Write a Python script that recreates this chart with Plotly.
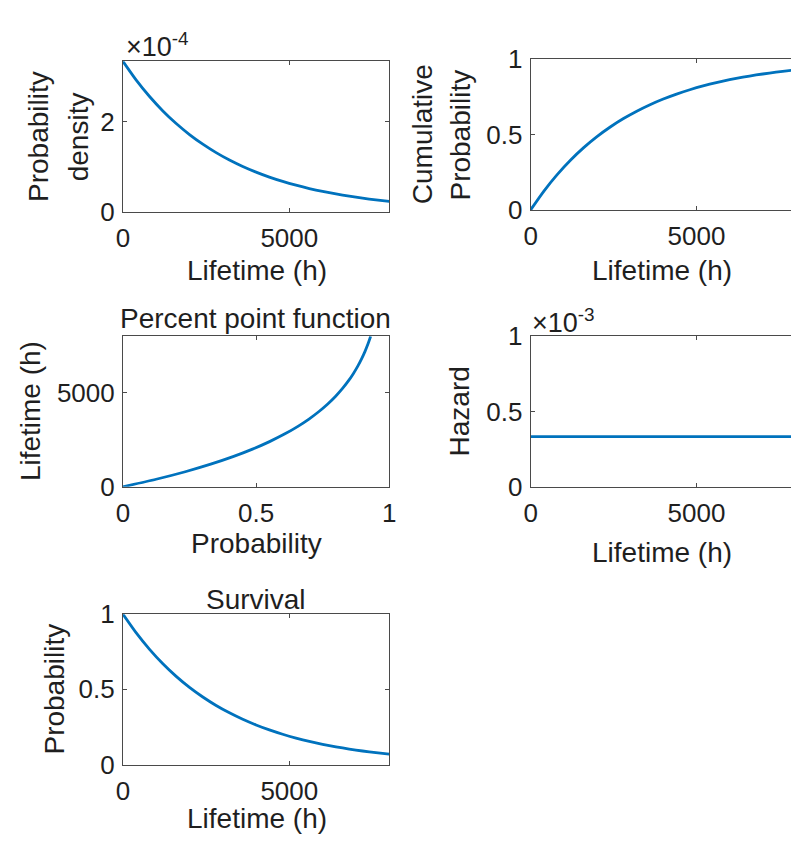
import plotly.graph_objects as go

# ---------------- data ----------------
lifetime_h = [0, 400, 800, 1200, 1600, 2000, 2400, 2800, 3200, 3600, 4000,
              4400, 4800, 5200, 5600, 6000, 6400, 6800, 7200, 7600, 8000]
# probability density, in units of 1e-4
pdf_e4 = [3.333, 2.917, 2.553, 2.234, 1.955, 1.711, 1.498, 1.311, 1.147, 1.004, 0.879,
          0.769, 0.673, 0.589, 0.515, 0.451, 0.395, 0.346, 0.302, 0.265, 0.232]
cdf = [0.0000, 0.1248, 0.2341, 0.3297, 0.4134, 0.4866, 0.5507, 0.6068, 0.6558, 0.6988, 0.7364,
       0.7693, 0.7981, 0.8233, 0.8454, 0.8647, 0.8816, 0.8963, 0.9093, 0.9206, 0.9305]
survival = [1.0000, 0.8752, 0.7659, 0.6703, 0.5866, 0.5134, 0.4493, 0.3932, 0.3442, 0.3012, 0.2636,
            0.2307, 0.2019, 0.1767, 0.1546, 0.1353, 0.1184, 0.1037, 0.0907, 0.0794, 0.0695]
# percent point function: probability -> lifetime
ppf_prob = cdf
ppf_life = lifetime_h
# hazard, in units of 1e-3
hazard_e3 = [0.333] * len(lifetime_h)

x_ticks = [0, 5000, 10000]
x_ticktext = ["0", "5000", "10000"]
prob_ticks = [0, 0.5, 1]
prob_ticktext = ["0", "0.5", "1"]
pdf_ticks = [0, 2]
pdf_ticktext = ["0", "2"]
life_ticks = [0, 5000]
life_ticktext = ["0", "5000"]

# ---------------- layout helpers ----------------
W, H = 798, 852
BLUE = "#0072BD"
AX = "#4a4a4a"
TXT = "#1f1f1f"
FONT = "Arial, Liberation Sans, Helvetica, sans-serif"
TICK_SIZE = 26
LABEL_SIZE = 28


def xdom(a, b):
    return [a / W, min(b / W, 1.0)]


def ydom(top, bottom):
    return [1 - bottom / H, 1 - top / H]


fig = go.Figure()

panels = [
    dict(x=lifetime_h, y=pdf_e4, xd=(118, 389), yd=(48, 204), xr=[0, 8000], yr=[0, 3.333],
         xt=(x_ticks, x_ticktext), yt=(pdf_ticks, pdf_ticktext), my=True),
    dict(x=lifetime_h, y=cdf, xd=(533, 798), yd=(46, 202), xr=[0, 8000 * 265 / 270], yr=[0, 1],
         xt=(x_ticks, x_ticktext), yt=(prob_ticks, prob_ticktext), my=False),
    dict(x=ppf_prob, y=ppf_life, xd=(118, 389), yd=(333, 489), xr=[0, 1], yr=[0, 8000],
         xt=(prob_ticks, prob_ticktext), yt=(life_ticks, life_ticktext), my=True),
    dict(x=lifetime_h, y=hazard_e3, xd=(533, 798), yd=(333, 489), xr=[0, 8000 * 265 / 270], yr=[0, 1],
         xt=(x_ticks, x_ticktext), yt=(prob_ticks, prob_ticktext), my=False),
    dict(x=lifetime_h, y=survival, xd=(118, 389), yd=(621, 777), xr=[0, 8000], yr=[0, 1],
         xt=(x_ticks, x_ticktext), yt=(prob_ticks, prob_ticktext), my=True),
]

for i, p in enumerate(panels, start=1):
    xa = "x" if i == 1 else f"x{i}"
    ya = "y" if i == 1 else f"y{i}"
    fig.add_trace(go.Scatter(x=p["x"], y=p["y"], mode="lines", xaxis=xa, yaxis=ya,
                             line=dict(color=BLUE, width=2.8, shape="spline", smoothing=0.6),
                             showlegend=False, hoverinfo="skip"))
    common = dict(showline=True, linecolor=AX, linewidth=1, ticks="inside", ticklen=4,
                  tickcolor=AX, tickwidth=1, showgrid=False, zeroline=False,
                  tickfont=dict(family=FONT, size=TICK_SIZE, color=TXT), fixedrange=True)
    fig.update_layout({
        ("xaxis" if i == 1 else f"xaxis{i}"): dict(
            domain=xdom(*p["xd"]), range=p["xr"], anchor=ya, mirror="ticks",
            tickvals=p["xt"][0], ticktext=p["xt"][1], ticklabelstandoff=3, **common),
        ("yaxis" if i == 1 else f"yaxis{i}"): dict(
            domain=ydom(*p["yd"]), range=p["yr"], anchor=xa,
            mirror="ticks" if p["my"] else False,
            tickvals=p["yt"][0], ticktext=p["yt"][1], ticklabelstandoff=2, **common),
    })

annotations = []


def ann(px, py, text, size=LABEL_SIZE, angle=0, xanchor="center", yanchor="middle"):
    annotations.append(dict(x=px / W, y=1 - py / H, xref="paper", yref="paper",
                            text=text, showarrow=False, textangle=angle,
                            xanchor=xanchor, yanchor=yanchor,
                            font=dict(family=FONT, size=size, color=TXT)))


# panel 1
ann(32, 126, "Probability", angle=-90)
ann(73, 126, "density", angle=-90)
ann(254, 265, "Lifetime (h)")
ann(119, 51, "×10<sup>-4</sup>", size=27, xanchor="left", yanchor="bottom")
# panel 2
ann(423, 124, "Cumulative", angle=-90)
ann(462, 124, "Probability", angle=-90)
ann(667, 265, "Lifetime (h)")
# panel 3
ann(253, 315, "Percent point function")
ann(24, 411, "Lifetime (h)", angle=-90)
ann(254, 548, "Probability")
# panel 4
ann(461, 411, "Hazard", angle=-90)
ann(667, 557, "Lifetime (h)")
ann(532, 337, "×10<sup>-3</sup>", size=27, xanchor="left", yanchor="bottom")
# panel 5
ann(253, 606, "Survival")
ann(48, 699, "Probability", angle=-90)
ann(254, 833, "Lifetime (h)")

fig.update_layout(
    width=W, height=H, margin=dict(l=0, r=0, t=0, b=0),
    paper_bgcolor="white", plot_bgcolor="white",
    font=dict(family=FONT, color=TXT),
    annotations=annotations,
)

fig.write_html("out.html", config={"displayModeBar": False})
